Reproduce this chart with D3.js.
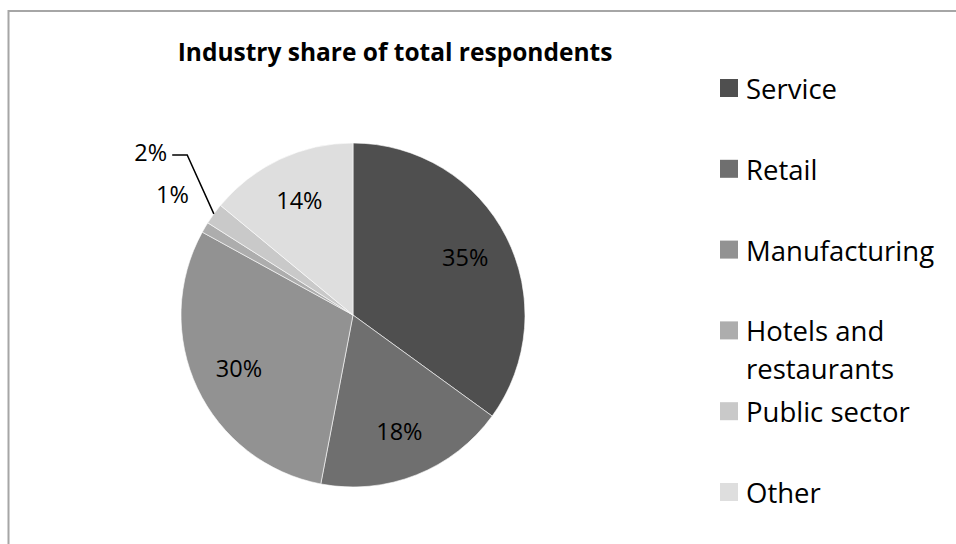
<!DOCTYPE html>
<html>
<head>
<meta charset="utf-8">
<script src="https://cdn.jsdelivr.net/npm/d3@7"></script>
<style>
  body { margin: 0; background: #fff; }
  svg text { font-family: "Open Sans", "Noto Sans", sans-serif; fill: #000; }
</style>
</head>
<body>
<div id="chart"></div>
<script>
(function() {
    // data
    var categories = ["Service", "Retail", "Manufacturing", "Hotels and restaurants", "Public sector", "Other"];
    var shares = [35, 18, 30, 1, 2, 14];
    var legendLines = [["Service"], ["Retail"], ["Manufacturing"], ["Hotels and", "restaurants"], ["Public sector"], ["Other"]];
    var colors = ["#4f4f4f", "#6f6f6f", "#929292", "#adadad", "#c9c9c9", "#dedede"];

    var width = 956;
    var height = 544;
    var cx = 353;
    var cy = 315;
    var radius = 172;
    var innerLabelRadius = 126;

    var svg = d3.select("#chart").append("svg")
        .attr("width", width)
        .attr("height", height);

    // chart area border (only top/left visible in frame)
    svg.append("rect")
        .attr("x", 8.5)
        .attr("y", 11)
        .attr("width", width + 20)
        .attr("height", height + 20)
        .attr("fill", "#fff")
        .attr("stroke", "#a6a6a6")
        .attr("stroke-width", 2);

    svg.append("text")
        .attr("x", 395)
        .attr("y", 61)
        .attr("text-anchor", "middle")
        .attr("font-weight", "bold")
        .attr("font-size", 24.5)
        .text("Industry share of total respondents");

    var pie = d3.pie().sort(null).value(function(d) { return d; });
    var arcs = pie(shares);
    var arc = d3.arc().innerRadius(0).outerRadius(radius);

    var face = svg.append("g")
        .attr("transform", "translate(" + cx + "," + cy + ")");

    face.selectAll(".slice")
        .data(arcs)
        .enter()
        .append("path")
        .attr("class", "slice")
        .attr("d", arc)
        .attr("fill", function(d, i) { return colors[i]; })
        .attr("stroke", "#fff")
        .attr("stroke-width", 0.6);

    function mid(d) { return (d.startAngle + d.endAngle) / 2; }
    function pt(a, r) { return [r * Math.sin(a), -r * Math.cos(a)]; }

    // inside labels for the big slices
    face.selectAll(".in-label")
        .data(arcs.filter(function(d) { return d.value >= 5; }))
        .enter()
        .append("text")
        .attr("class", "in-label")
        .attr("text-anchor", "middle")
        .attr("font-size", 23.5)
        .attr("x", function(d) { return pt(mid(d), innerLabelRadius)[0]; })
        .attr("y", function(d) { return pt(mid(d), innerLabelRadius)[1] + 8; })
        .text(function(d) { return d.value + "%"; });

    // outside labels for the thin slices
    var small = arcs.filter(function(d) { return d.value < 5; });
    var rad = Math.PI / 180;

    // 1%: plain label just outside
    var s1 = small[0];
    var p1 = pt(mid(s1) + 3 * rad, radius * 1.26);
    face.append("text")
        .attr("text-anchor", "middle")
        .attr("font-size", 23.5)
        .attr("x", p1[0])
        .attr("y", p1[1] + 8)
        .text(s1.value + "%");

    // 2%: label with leader line
    var s2 = small[1];
    var a0 = pt(mid(s2), radius);
    var elbow = pt(mid(s2) + 8 * rad, radius * 1.34);
    face.append("polyline")
        .attr("points", [a0, elbow, [elbow[0] - 15, elbow[1]]].map(function(p) { return p.join(","); }).join(" "))
        .attr("fill", "none")
        .attr("stroke", "#000")
        .attr("stroke-width", 1.5);
    face.append("text")
        .attr("text-anchor", "end")
        .attr("font-size", 23.5)
        .attr("x", elbow[0] - 20)
        .attr("y", elbow[1] + 6)
        .text(s2.value + "%");

    // legend
    var legend = svg.append("g").attr("transform", "translate(720,99)");
    var row = legend.selectAll(".legend-row")
        .data(categories)
        .enter()
        .append("g")
        .attr("class", "legend-row")
        .attr("transform", function(d, i) { return "translate(0," + (i * 80.8) + ")"; });

    row.append("rect")
        .attr("x", 0)
        .attr("y", -20)
        .attr("width", 18)
        .attr("height", 18)
        .attr("fill", function(d, i) { return colors[i]; });

    row.append("text")
        .attr("x", 26)
        .attr("y", 0)
        .attr("font-size", 27.5)
        .each(function(d, i) {
            var t = d3.select(this);
            legendLines[i].forEach(function(line, j) {
                t.append("tspan")
                    .attr("x", 26)
                    .attr("dy", j === 0 ? 0 : 38)
                    .text(line);
            });
        });
})();
</script>
</body>
</html>
